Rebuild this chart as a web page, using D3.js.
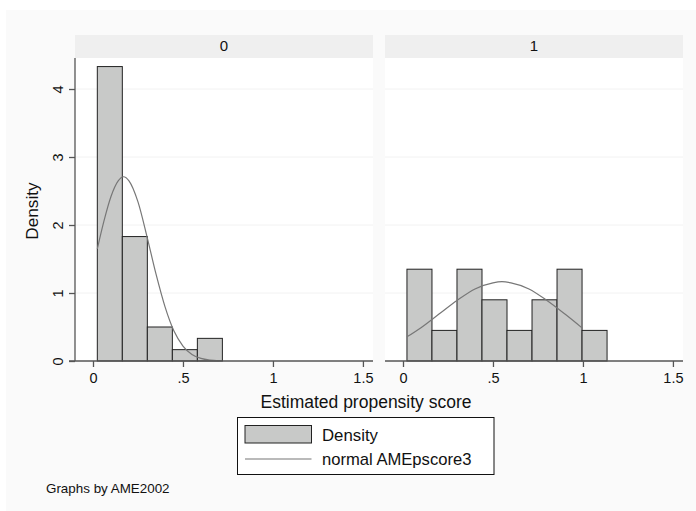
<!DOCTYPE html>
<html>
<head>
<meta charset="utf-8">
<script src="https://cdn.jsdelivr.net/npm/d3@7"></script>
<style>
  body{margin:0;background:#fff;}
  text{font-family:Arial,"Liberation Sans",sans-serif;fill:#111;}
</style>
</head>
<body>
<script>
// histogram bins (left edge, density)
const binWidth=0.139;
const bins0Start=[0.024,0.163,0.302,0.441,0.580];
const bins0Density=[4.33,1.83,0.5,0.167,0.333];
const bins1Start=[0.022,0.161,0.300,0.439,0.578,0.717,0.856,0.995];
const bins1Density=[1.35,0.45,1.35,0.9,0.45,0.9,1.35,0.45];

// normal curve, points
const curve0X=[0.024,0.06,0.10,0.14,0.17,0.20,0.25,0.30,0.35,0.40,0.45,0.50,0.55,0.60,0.65,0.70];
const curve0Y=[1.65,2.05,2.42,2.65,2.71,2.65,2.34,1.83,1.28,0.80,0.44,0.22,0.096,0.038,0.013,0.004];
const curve1X=[0.022,0.10,0.20,0.30,0.40,0.50,0.55,0.60,0.70,0.80,0.90,0.998];
const curve1Y=[0.355,0.49,0.69,0.89,1.06,1.15,1.166,1.15,1.06,0.89,0.69,0.48];

const panelNames=["0","1"];
const xTicks=[0,0.5,1,1.5];
const xTickLabels=["0",".5","1","1.5"];
const yTicks=[0,1,2,3,4];
const gridTicks=[1,2,3,4];

const w=696,h=511;
const plotTop=58,plotBottom=361;
const panels=[
  {name:panelNames[0],x0:75,x1:373,starts:bins0Start,dens:bins0Density,cx:curve0X,cy:curve0Y},
  {name:panelNames[1],x0:385,x1:683,starts:bins1Start,dens:bins1Density,cx:curve1X,cy:curve1Y}
];

const svg=d3.select('body').append('svg').attr('width',w).attr('height',h);
svg.append('rect').attr('x',6).attr('y',10).attr('width',w-6).attr('height',h-10).attr('fill','#fafafa');

const yScale=d3.scaleLinear().domain([0,4.456]).range([plotBottom,plotTop]);

panels.forEach((p,pi)=>{
  const xScale=d3.scaleLinear().domain([-0.1,1.556]).range([p.x0,p.x1]);
  const g=svg.append('g');
  // strip
  g.append('rect').attr('x',p.x0).attr('y',35).attr('width',p.x1-p.x0).attr('height',plotTop-35).attr('fill','#efefef');
  g.append('text').attr('x',(p.x0+p.x1)/2).attr('y',51).attr('text-anchor','middle')
   .style('font-size','15px').text(p.name);
  // plot region
  g.append('rect').attr('x',p.x0).attr('y',plotTop).attr('width',p.x1-p.x0).attr('height',plotBottom-plotTop).attr('fill','#fff');
  g.selectAll('line.grid').data(gridTicks).enter().append('line').attr('class','grid')
   .attr('x1',p.x0).attr('x2',p.x1).attr('y1',d=>yScale(d)).attr('y2',d=>yScale(d))
   .attr('stroke','#f2f2f2').attr('stroke-width',1);
  // bars
  g.selectAll('rect.bar').data(p.starts).enter().append('rect').attr('class','bar')
   .attr('x',d=>xScale(d)).attr('width',xScale(binWidth)-xScale(0))
   .attr('y',(d,i)=>yScale(p.dens[i])).attr('height',(d,i)=>yScale(0)-yScale(p.dens[i]))
   .attr('fill','#c8c9c8').attr('stroke','#222').attr('stroke-width',1);
  // normal curve
  const line=d3.line().x(d=>xScale(d[0])).y(d=>yScale(d[1])).curve(d3.curveMonotoneX);
  g.append('path').datum(p.cx.map((x,i)=>[x,p.cy[i]])).attr('d',line)
   .attr('fill','none').attr('stroke','#777').attr('stroke-width',1.2);
  // x axis
  const xAxis=d3.axisBottom(xScale).tickValues(xTicks).tickFormat((d,i)=>xTickLabels[i]).tickSize(6).tickSizeOuter(0).tickPadding(6);
  const ax=g.append('g').attr('transform','translate(0,'+plotBottom+')').call(xAxis);
  ax.select('.domain').remove();
  ax.append('line').attr('x1',pi==0?69:p.x0).attr('x2',p.x1).attr('y1',0).attr('y2',0).attr('stroke','#555').attr('stroke-width',1.3);
  ax.selectAll('.tick line').attr('stroke','#555').attr('stroke-width',1.3);
  ax.selectAll('.tick text').style('font-size','14.5px').attr('fill','#111').style('font-family','Arial,"Liberation Sans",sans-serif');
  if(pi==0){
    const yAxis=d3.axisLeft(yScale).tickValues(yTicks).tickFormat(d3.format('d')).tickSize(6).tickSizeOuter(0);
    const ay=g.append('g').attr('transform','translate('+p.x0+',0)').call(yAxis);
    ay.select('.domain').remove();
    ay.append('line').attr('x1',0).attr('x2',0).attr('y1',plotTop).attr('y2',plotBottom).attr('stroke','#555').attr('stroke-width',1.3);
    ay.selectAll('.tick line').attr('stroke','#555').attr('stroke-width',1.3);
    ay.selectAll('.tick text').attr('x',null).attr('dy',null)
      .attr('transform','translate(-12,0) rotate(-90)').attr('text-anchor','middle')
      .style('font-size','14.5px').attr('fill','#111').style('font-family','Arial,"Liberation Sans",sans-serif');
  }
});

// axis titles
svg.append('text').attr('transform','translate(38,211) rotate(-90)').attr('text-anchor','middle')
 .style('font-size','17.2px').text('Density');
svg.append('text').attr('x',366).attr('y',408).attr('text-anchor','middle')
 .style('font-size','17.5px').text('Estimated propensity score');

// legend
const legend=svg.append('g');
legend.append('rect').attr('x',237.5).attr('y',417.5).attr('width',256.5).attr('height',57)
 .attr('fill','#fff').attr('stroke','#111').attr('stroke-width',1);
legend.append('rect').attr('x',245).attr('y',425.5).attr('width',66.5).attr('height',17.5)
 .attr('fill','#c8c9c8').attr('stroke','#222').attr('stroke-width',1);
legend.append('line').attr('x1',245).attr('x2',311.5).attr('y1',459).attr('y2',459)
 .attr('stroke','#777').attr('stroke-width',1.2);
legend.append('text').attr('x',322).attr('y',440.5).style('font-size','16.8px').text('Density');
legend.append('text').attr('x',322).attr('y',465).style('font-size','16.6px').text('normal AMEpscore3');

svg.append('text').attr('x',46).attr('y',493).style('font-size','13.4px').text('Graphs by AME2002');
</script>
</body>
</html>
